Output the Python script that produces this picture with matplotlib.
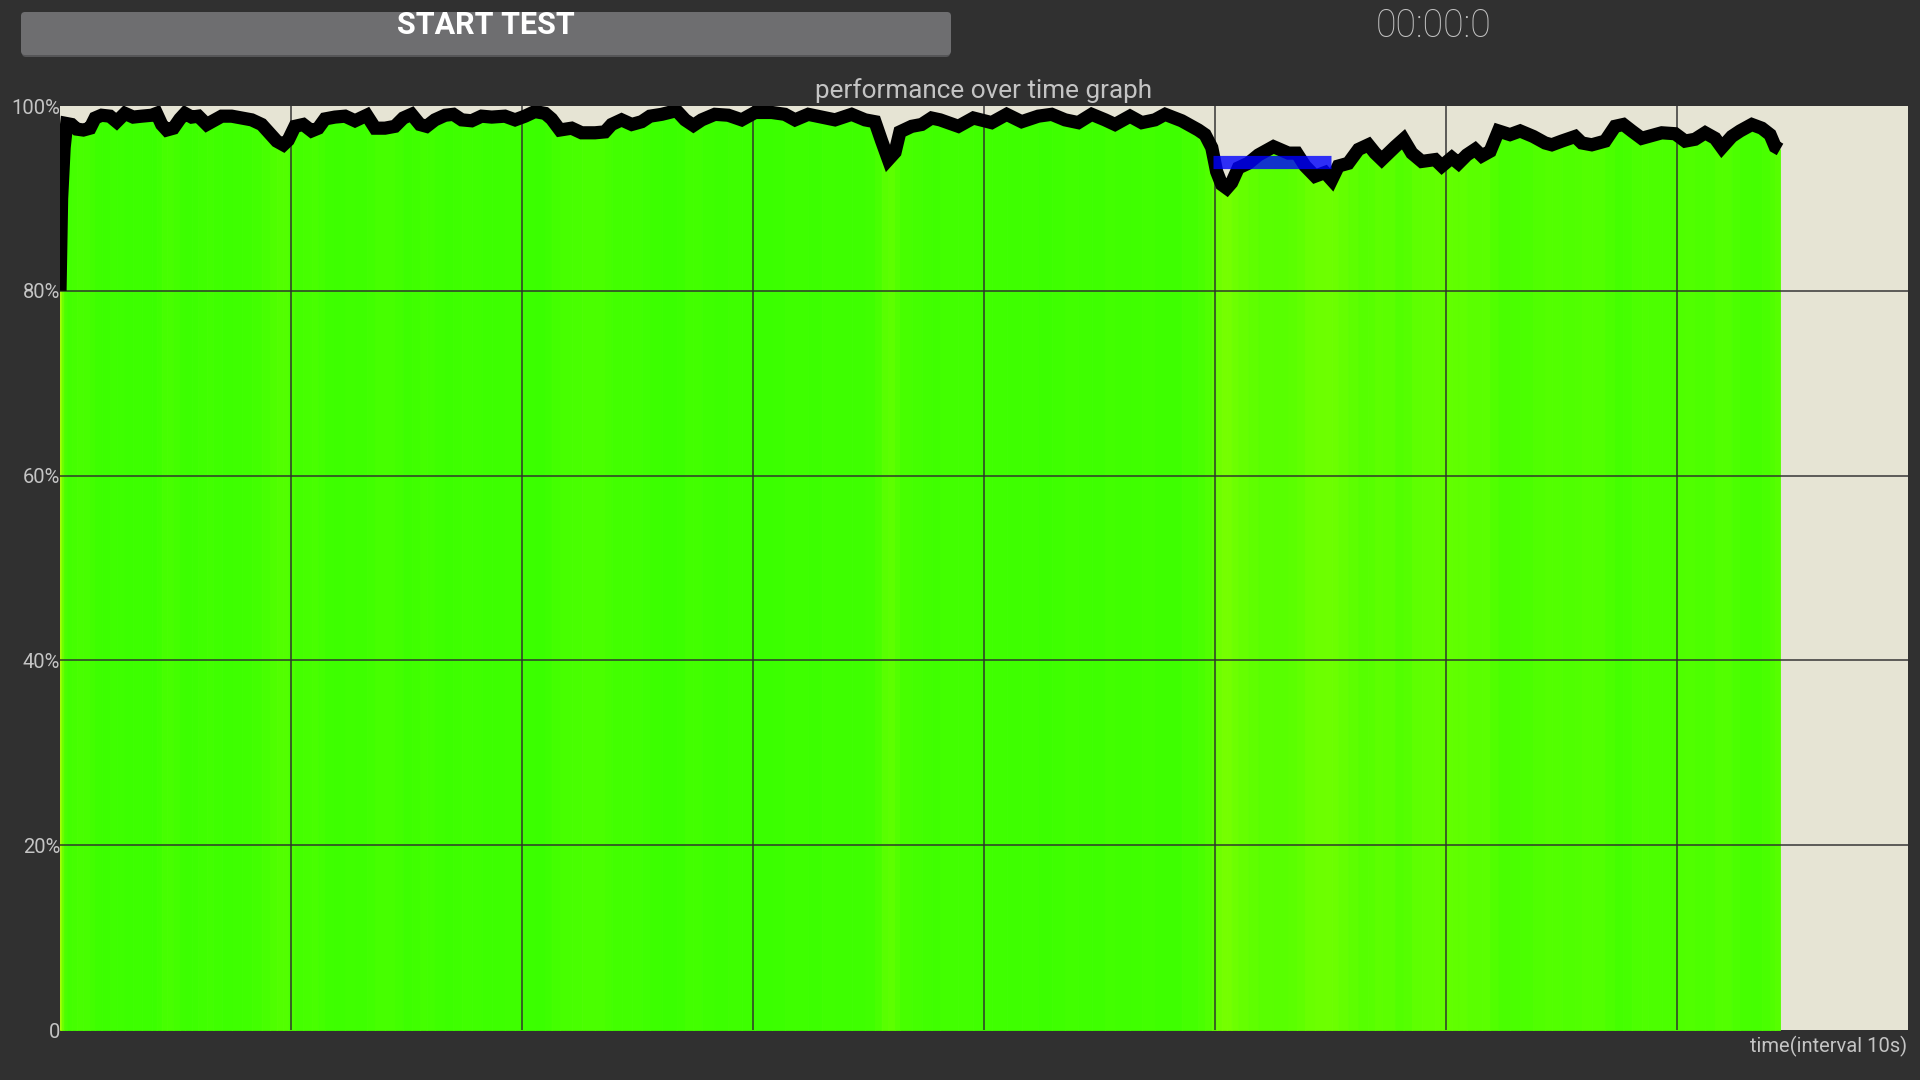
import colorsys
import matplotlib
matplotlib.use("Agg")
import matplotlib.pyplot as plt
from matplotlib.patches import FancyBboxPatch

# ── data: performance (%) sampled over time (s) ─────────────
t_sec = [
    0.00, 0.07, 0.18, 0.29, 0.50, 0.72, 1.01, 1.30, 1.52, 1.80, 2.16, 2.45,
    2.81, 3.17, 3.54, 3.97, 4.18, 4.40, 4.62, 4.91, 5.19, 5.41, 5.70, 5.99,
    6.35, 6.64, 7.00, 7.43, 7.86, 8.30, 8.73, 9.09, 9.38, 9.67, 9.88, 10.17,
    10.53, 10.89, 11.18, 11.47, 11.90, 12.34, 12.77, 13.28, 13.64, 14.07, 14.50, 14.86,
    15.22, 15.58, 15.87, 16.23, 16.67, 17.03, 17.39, 17.82, 18.25, 18.69, 19.26, 19.70,
    20.13, 20.56, 21.00, 21.28, 21.64, 22.15, 22.58, 23.16, 23.59, 23.88, 24.31, 24.75,
    25.18, 25.54, 26.05, 26.69, 27.06, 27.42, 27.78, 28.35, 28.93, 29.51, 30.09, 30.81,
    31.38, 31.82, 32.39, 32.97, 33.55, 34.27, 34.85, 35.28, 35.57, 35.86, 36.15, 36.36,
    36.87, 37.30, 37.73, 38.10, 38.89, 39.54, 40.33, 40.98, 41.63, 42.35, 42.93, 43.51,
    44.08, 44.66, 45.24, 45.67, 46.32, 46.83, 47.40, 47.84, 48.56, 49.28, 49.57, 49.86,
    50.07, 50.29, 50.51, 50.72, 51.01, 51.44, 51.88, 52.53, 53.18, 53.54, 53.90, 54.33,
    54.76, 55.05, 55.34, 55.77, 56.21, 56.64, 56.93, 57.22, 57.80, 58.16, 58.52, 58.95,
    59.53, 59.82, 60.25, 60.54, 60.90, 61.26, 61.55, 61.91, 62.27, 62.77, 63.21, 63.78,
    64.29, 64.58, 65.01, 65.59, 65.88, 66.31, 66.89, 67.32, 67.68, 68.04, 68.47, 68.76,
    69.34, 69.92, 70.35, 70.78, 71.22, 71.65, 71.94, 72.37, 72.73, 73.24, 73.67, 74.03,
    74.25, 74.46,
]
perf = [
    80.0, 90.0, 95.5, 98.1, 98.0, 97.5, 97.4, 97.6, 98.7, 99.0, 98.9, 98.3,
    99.2, 98.8, 98.9, 99.0, 99.2, 98.0, 97.4, 97.6, 98.6, 99.2, 98.8, 98.9,
    98.0, 98.4, 98.9, 98.9, 98.7, 98.5, 98.0, 97.0, 96.2, 95.8, 96.3, 97.8,
    98.0, 97.3, 97.6, 98.6, 98.8, 98.9, 98.4, 99.0, 97.6, 97.6, 97.8, 98.7,
    99.1, 98.0, 97.8, 98.5, 99.0, 99.1, 98.5, 98.4, 98.9, 98.8, 98.9, 98.5,
    98.9, 99.4, 99.2, 98.6, 97.4, 97.6, 97.1, 97.1, 97.2, 98.0, 98.5, 98.0,
    98.3, 98.9, 99.1, 99.5, 98.5, 97.9, 98.5, 99.1, 99.0, 98.5, 99.3, 99.3,
    99.1, 98.5, 99.1, 98.8, 98.5, 99.1, 98.5, 98.3, 96.2, 94.2, 95.0, 97.2,
    97.8, 98.0, 98.7, 98.5, 97.8, 98.7, 98.2, 99.1, 98.3, 98.9, 99.1, 98.5,
    98.2, 99.1, 98.5, 98.0, 98.9, 98.2, 98.5, 99.1, 98.4, 97.4, 96.9, 95.5,
    92.9, 91.5, 91.1, 91.7, 93.3, 93.8, 94.7, 95.6, 94.9, 94.9, 93.5, 92.4,
    92.8, 92.0, 93.5, 93.8, 95.3, 95.8, 94.9, 94.2, 95.6, 96.4, 94.9, 94.0,
    94.2, 93.5, 94.4, 93.8, 94.7, 95.3, 94.6, 95.1, 97.3, 96.9, 97.3, 96.7,
    96.0, 95.8, 96.2, 96.7, 96.0, 95.8, 96.2, 97.8, 98.0, 97.3, 96.5, 96.7,
    97.1, 97.0, 96.2, 96.4, 97.1, 96.5, 95.5, 96.7, 97.3, 98.0, 97.6, 96.9,
    95.6, 95.3,
]

# highlighted (blue) segment
mark_t = [49.9, 55.0]
mark_v = [93.9, 93.9]

y_ticks = [0, 20, 40, 60, 80, 100]
y_labels = ["0", "20%", "40%", "60%", "80%", "100%"]
x_grid = [10, 20, 30, 40, 50, 60, 70]
X_MAX = 80

# ── colours ─────────────────────────────────────────────────
C_BG = "#303030"
C_PLOT = "#e6e4d4"
C_BTN = "#6e6e70"
C_TEXT = "#c4c4c4"
C_GRID = "#2e2e2e"


def perf_color(v):
    hue = 105 - 1.75 * (98.5 - v)
    hue = max(0.0, min(120.0, hue))
    return colorsys.hsv_to_rgb(hue / 360.0, 1.0, 1.0)


plt.rcParams["font.family"] = ["Roboto", "DejaVu Sans"]

fig = plt.figure(figsize=(19.2, 10.8), dpi=100)
fig.patch.set_facecolor(C_BG)

ax = fig.add_axes([60 / 1920, 50 / 1080, 1848 / 1920, 924 / 1080])
ax.set_facecolor(C_PLOT)
ax.set_xlim(0, X_MAX)
ax.set_ylim(0, 100)
for s in ax.spines.values():
    s.set_visible(False)

# coloured fill, one slice per sample interval
for i in range(len(t_sec) - 1):
    c = perf_color((perf[i] + perf[i + 1]) / 2)
    ax.fill_between(t_sec[i:i + 2], perf[i:i + 2], 0, color=c,
                    linewidth=0.6, edgecolor=c, zorder=1)

# grid
for y in y_ticks[1:-1]:
    ax.axhline(y, color=C_GRID, lw=1.4, alpha=0.75, zorder=2)
for x in x_grid:
    ax.axvline(x, color=C_GRID, lw=1.4, alpha=0.75, zorder=2)

ax.plot(t_sec, perf, color="black", lw=9.5, solid_joinstyle="miter",
        solid_capstyle="butt", zorder=3)
ax.plot(mark_t, mark_v, color="#0000ff", lw=9.5, alpha=0.8,
        solid_capstyle="butt", zorder=4)

ax.set_xticks([])
ax.set_yticks(y_ticks)
ax.set_yticklabels(y_labels)
ax.tick_params(axis="y", length=0, pad=0, labelsize=14.5, labelcolor=C_TEXT)

# ── header widgets ──────────────────────────────────────────
ov = fig.add_axes([0, 0, 1, 1], zorder=-1)
ov.set_xlim(0, 1920)
ov.set_ylim(1080, 0)
ov.axis("off")
ov.add_patch(FancyBboxPatch((22, 14), 928, 43, boxstyle="round,pad=0,rounding_size=4",
                            facecolor="#555557", edgecolor="none"))
ov.add_patch(FancyBboxPatch((21, 12), 930, 43, boxstyle="round,pad=0,rounding_size=4",
                            facecolor=C_BTN, edgecolor="none"))

fig.text(486 / 1920, 1 - 25 / 1080, "START TEST", ha="center", va="center",
         fontsize=22, fontweight="bold", color="white")
fig.text(1434 / 1920, 1 - 26 / 1080, "00:00:0", ha="center", va="center",
         fontsize=27, fontweight="light", color=C_TEXT)
fig.text(984 / 1920, 1 - 91 / 1080, "performance over time graph", ha="center",
         va="center", fontsize=18.8, color=C_TEXT)
fig.text(1907 / 1920, 1 - 1046 / 1080, "time(interval 10s)", ha="right",
         va="center", fontsize=14.5, color=C_TEXT)

plt.savefig("out.png", dpi=100, facecolor=C_BG)
plt.close()
